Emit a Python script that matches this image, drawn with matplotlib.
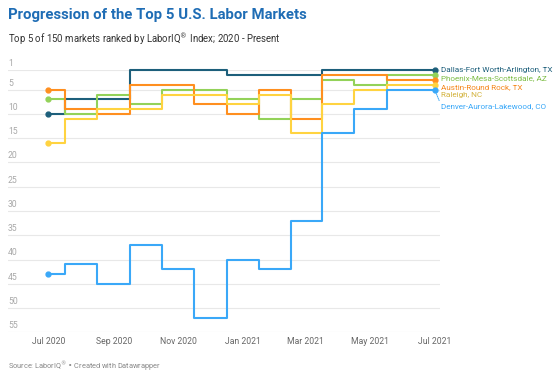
import datetime as dt

import matplotlib

matplotlib.use("Agg")
import matplotlib.dates as mdates
import matplotlib.pyplot as plt
import matplotlib.transforms as mtransforms

# monthly rank (1 = best) of each market, Jul 2020 .. Jul 2021
months = [dt.date(2020, 7, 1), dt.date(2020, 8, 1), dt.date(2020, 9, 1), dt.date(2020, 10, 1),
          dt.date(2020, 11, 1), dt.date(2020, 12, 1), dt.date(2021, 1, 1), dt.date(2021, 2, 1),
          dt.date(2021, 3, 1), dt.date(2021, 4, 1), dt.date(2021, 5, 1), dt.date(2021, 6, 1),
          dt.date(2021, 7, 1)]
dallas = [10, 7, 7, 1, 1, 1, 2, 2, 2, 1, 1, 1, 1]
phoenix = [7, 10, 6, 8, 5, 5, 7, 11, 7, 3, 4, 2, 2]
austin = [5, 9, 10, 4, 4, 8, 10, 5, 11, 2, 2, 3, 3]
raleigh = [16, 11, 9, 9, 6, 6, 8, 6, 14, 8, 5, 4, 4]
denver = [43, 41, 45, 37, 42, 52, 40, 42, 32, 14, 9, 5, 5]

names = ["Dallas-Fort Worth-Arlington, TX", "Phoenix-Mesa-Scottsdale, AZ",
         "Austin-Round Rock, TX", "Raleigh, NC", "Denver-Aurora-Lakewood, CO"]
y_ticks = [1, 5, 10, 15, 20, 25, 30, 35, 40, 45, 50, 55]
x_ticks = [dt.date(2020, 7, 1), dt.date(2020, 9, 1), dt.date(2020, 11, 1), dt.date(2021, 1, 1),
           dt.date(2021, 3, 1), dt.date(2021, 5, 1), dt.date(2021, 7, 1)]

line_colors = ["#1d5f7b", "#93d259", "#ff8f1f", "#ffd340", "#3aa8f8"]
text_colors = ["#1d5f7b", "#7dbd45", "#f5861a", "#d2b23c", "#3aa8f8"]
label_dy = [0, -2.5, -5.0, -7.6, -11.8]  # points, to spread end labels

W, H = 557, 376
plt.rcParams["font.family"] = ["Roboto", "DejaVu Sans"]

fig = plt.figure(figsize=(W / 100, H / 100), dpi=100)
ax = fig.add_axes([8 / W, 1 - 332.3 / H, (440 - 8) / W, (332.3 - 70.3) / H])

series = [dallas, phoenix, austin, raleigh, denver]
x = mdates.date2num(months)
for vals, name, lc, tc, dy in zip(series, names, line_colors, text_colors, label_dy):
    ax.step(x, vals, where="mid", color=lc, lw=1.5, clip_on=False, zorder=3)
    ax.plot([x[0], x[-1]], [vals[0], vals[-1]], "o", color=lc, ms=3.5,
            clip_on=False, zorder=4)
    ax.annotate(name, (x[-1], vals[-1]), xytext=(4.6, dy), textcoords="offset points",
                ha="left", va="center", fontsize=5.9, color=tc, annotation_clip=False)
    if dy < -8:
        # dotted leader from the end dot down to a displaced label
        ax.annotate("", (x[-1], vals[-1]), xytext=(3.2, dy + 4), textcoords="offset points",
                    arrowprops=dict(arrowstyle="-", color=lc, lw=0.7, ls=(0, (1, 1)),
                                    shrinkA=0, shrinkB=2),
                    annotation_clip=False)

ax.set_xlim(mdates.date2num(dt.date(2020, 5, 24)), mdates.date2num(dt.date(2021, 7, 6)))
ax.set_ylim(55, 1)
for s in ax.spines.values():
    s.set_visible(False)
ax.set_yticks(y_ticks)
ax.yaxis.grid(True, color="#e8e8e8", lw=0.8)
ax.set_axisbelow(True)
ax.tick_params(axis="y", length=0, labelleft=False)
trans = mtransforms.blended_transform_factory(ax.transAxes, ax.transData)
for t in y_ticks:
    ax.annotate(str(t), (0, t), xycoords=trans, xytext=(0, 4.8), textcoords="offset points",
                ha="left", va="center", fontsize=6.2, color="#a8a8a8")

ax.set_xticks(mdates.date2num(x_ticks))
ax.set_xticklabels([d.strftime("%b %Y") for d in x_ticks], fontsize=6.2, color="#666666")
ax.tick_params(axis="x", length=0, pad=3.2)

fig.text(8 / W, 1 - 15 / H, "Progression of the Top 5 U.S. Labor Markets", fontsize=10.7,
         fontweight="bold", color="#1f6db5", va="center", ha="left")
fig.text(8 / W, 1 - 39 / H, r"Top 5 of 150 markets ranked by LaborIQ$^{®}$ Index; 2020 - Present",
         fontsize=6.9, color="#333333", va="center", ha="left")
fig.text(8 / W, 1 - 366 / H, r"Source: LaborIQ$^{®}$ • Created with Datawrapper",
         fontsize=5.3, color="#888888", va="center", ha="left")

fig.savefig("out.png", dpi=100)
